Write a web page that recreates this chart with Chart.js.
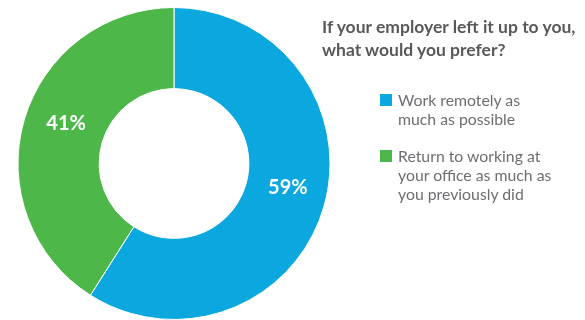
<!DOCTYPE html>
<html>
<head>
<meta charset="utf-8">
<script src="https://cdn.jsdelivr.net/npm/chart.js@4/dist/chart.umd.min.js"></script>
<style>
    body { margin: 0; background: #fff; font-family: Lato, "Open Sans", sans-serif; }
    #wrap { position: relative; width: 585px; height: 320px; overflow: hidden; }
    #chartBox { position: absolute; left: 0; top: 0; width: 585px; height: 320px; }
    #title { position: absolute; left: 322px; top: 15px; font-weight: bold; font-size: 17.5px; line-height: 23px; color: #58595b; white-space: nowrap; }
    .item { position: absolute; left: 380px; font-size: 15.8px; line-height: 19px; color: #6d6e71; }
    .item .box { position: absolute; left: 0; top: 4px; width: 12px; height: 12px; }
    .item .txt { position: absolute; left: 18px; top: 0; white-space: nowrap; }
</style>
</head>
<body>
<div id="wrap">
    <div id="chartBox"><canvas id="donut"></canvas></div>
    <div id="title"></div>
    <div id="legend"></div>
</div>
<script>
    // data
    var titleLines = ["If your employer left it up to you,", "what would you prefer?"];
    var categories = ["Work remotely as much as possible", "Return to working at your office as much as you previously did"];
    var legendLines = [["Work remotely as", "much as possible"], ["Return to working at", "your office as much as", "you previously did"]];
    var values = [59, 41];
    var colors = ["#0ba7df", "#4db849"];

    // title + legend as html text
    document.getElementById('title').innerHTML = titleLines.join('<br>');

    var legendTops = [90, 146];
    var legend = document.getElementById('legend');
    legendLines.forEach(function(lines, i) {
        var d = document.createElement('div');
        d.className = 'item';
        d.style.top = legendTops[i] + 'px';
        d.innerHTML = '<div class="box" style="background:' + colors[i] + '"></div>' +
            '<div class="txt">' + lines.join('<br>') + '</div>';
        legend.appendChild(d);
    });

    // percent labels in the middle of each arc
    var arcLabels = {
        id: 'arcLabels',
        afterDatasetsDraw: function(chart) {
            var ctx = chart.ctx;
            var meta = chart.getDatasetMeta(0);
            ctx.save();
            ctx.fillStyle = '#fff';
            ctx.font = 'bold 20px Lato, "Open Sans", sans-serif';
            ctx.textAlign = 'center';
            ctx.textBaseline = 'middle';
            meta.data.forEach(function(arc, i) {
                var pos = arc.tooltipPosition();
                ctx.fillText(values[i] + '%', pos.x + 3, pos.y - 8);
            });
            ctx.restore();
        }
    };

    new Chart(document.getElementById('donut'), {
        type: 'doughnut',
        data: {
            labels: categories,
            datasets: [{
                data: values,
                backgroundColor: colors,
                borderColor: '#fff',
                borderWidth: 1
            }]
        },
        options: {
            responsive: true,
            maintainAspectRatio: false,
            animation: false,
            cutout: '48%',
            layout: { padding: { left: 17, right: 254, top: 7, bottom: 0 } },
            plugins: {
                legend: { display: false },
                tooltip: { enabled: false }
            }
        },
        plugins: [arcLabels]
    });
</script>
</body>
</html>
